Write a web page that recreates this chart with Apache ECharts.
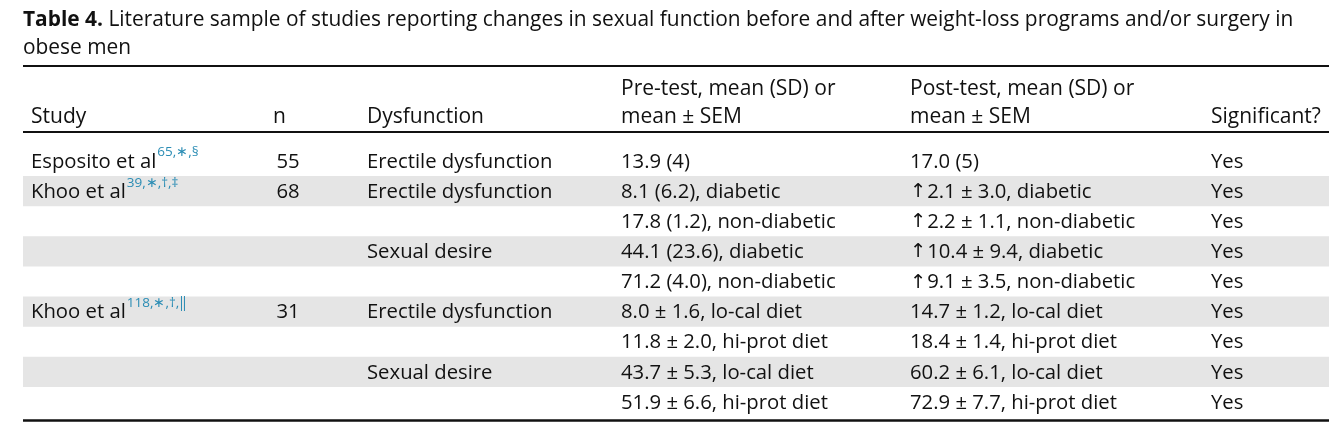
<!DOCTYPE html>
<html><head><meta charset="utf-8">
<script src="https://cdn.jsdelivr.net/npm/echarts@6/dist/echarts.min.js"></script>
<style>html,body{margin:0;padding:0;background:#fff}#c{width:1343px;height:429px}</style>
</head><body><div id="c"></div>
<script>
// ---- data ----
const studies = ['Esposito et al', 'Khoo et al', '', '', '', 'Khoo et al', '', '', ''];
const studyRefs = ['65,\u2217,\u00a7', '39,\u2217,\u2020,\u2021', '', '', '', '118,\u2217,\u2020,\u2016', '', '', ''];
const nValues = ['55', '68', '', '', '', '31', '', '', ''];
const dysfunctions = ['Erectile dysfunction', 'Erectile dysfunction', '', 'Sexual desire', '', 'Erectile dysfunction', '', 'Sexual desire', ''];
const preTest = ['13.9 (4)', '8.1 (6.2), diabetic', '17.8 (1.2), non-diabetic', '44.1 (23.6), diabetic', '71.2 (4.0), non-diabetic',
  '8.0 \u00b1 1.6, lo-cal diet', '11.8 \u00b1 2.0, hi-prot diet', '43.7 \u00b1 5.3, lo-cal diet', '51.9 \u00b1 6.6, hi-prot diet'];
const postTest = ['17.0 (5)', '\u21912.1 \u00b1 3.0, diabetic', '\u21912.2 \u00b1 1.1, non-diabetic', '\u219110.4 \u00b1 9.4, diabetic', '\u21919.1 \u00b1 3.5, non-diabetic',
  '14.7 \u00b1 1.2, lo-cal diet', '18.4 \u00b1 1.4, hi-prot diet', '60.2 \u00b1 6.1, lo-cal diet', '72.9 \u00b1 7.7, hi-prot diet'];
const significant = ['Yes', 'Yes', 'Yes', 'Yes', 'Yes', 'Yes', 'Yes', 'Yes', 'Yes'];
const headerLine1 = ['', '', '', 'Pre-test, mean (SD) or', 'Post-test, mean (SD) or', ''];
const headerLine2 = ['Study', 'n', 'Dysfunction', 'mean \u00b1 SEM', 'mean \u00b1 SEM', 'Significant?'];
const titleBold = 'Table 4.';
const titleLine1 = ' Literature sample of studies reporting changes in sexual function before and after weight-loss programs and/or surgery in';
const titleLine2 = 'obese men';

// ---- layout / style ----
const FAMILY = '"Open Sans", "Noto Sans", sans-serif';
const SIZE = 20.3;
const HEAD_SIZE = 21;
const TITLE_SIZE = 20.9;
const SUP_SIZE = 13.5;
const INK = '#111';
const TEAL = '#2a8cb4';
const SHADE = '#e5e5e5';
const COLX = [31, 288, 367, 621, 910, 1211];
const HEAD_X = [31, 273, 367, 621, 910, 1211];
const TABLE_L = 23, TABLE_R = 1329;

const measureCtx = document.createElement('canvas').getContext('2d');
function textWidth(s, size, weight) {
  measureCtx.font = (weight || 'normal') + ' ' + size + 'px ' + FAMILY;
  return measureCtx.measureText(s).width;
}
function txt(x, y, s, opts) {
  opts = opts || {};
  const style = {
    text: s, fill: opts.fill || INK, fontSize: opts.size || SIZE, fontFamily: FAMILY,
    fontWeight: opts.weight || 'normal', align: opts.align || 'left', verticalAlign: 'middle'
  };
  if (s && s.charAt(0) === '\u2191') {
    style.text = '{a|\u2191}{m|' + s.slice(1) + '}';
    style.rich = {
      a: { fontFamily: '"DejaVu Sans"', fontSize: SIZE - 1, fill: INK, padding: [0, 1, 0, 0] },
      m: { fontFamily: FAMILY, fontSize: SIZE, fill: INK }
    };
  }
  return { type: 'text', x: x, y: y, silent: true, style: style };
}

function renderItem(params, api) {
  const i = api.value(1);
  const yTop = api.coord([0, i])[1];
  const yBot = api.coord([0, i + 1])[1];
  const yc = (yTop + yBot) / 2 + 1;
  const children = [];
  if (i % 2 === 1) {
    const xl = api.coord([TABLE_L, 0])[0], xr = api.coord([TABLE_R, 0])[0];
    children.push({ type: 'rect', silent: true, shape: { x: xl, y: yTop, width: xr - xl, height: yBot - yTop }, style: { fill: SHADE } });
  }
  const px = c => api.coord([COLX[c], 0])[0];
  if (studies[i]) {
    children.push(txt(px(0), yc, studies[i]));
    const w = textWidth(studies[i], SIZE);
    children.push(txt(px(0) + w + 1, yc - 9.5, studyRefs[i], { fill: TEAL, size: SUP_SIZE }));
  }
  if (nValues[i]) children.push(txt(px(1), yc, nValues[i], { align: 'center' }));
  if (dysfunctions[i]) children.push(txt(px(2), yc, dysfunctions[i]));
  children.push(txt(px(3), yc, preTest[i]));
  children.push(txt(px(4), yc, postTest[i]));
  children.push(txt(px(5), yc, significant[i]));
  return { type: 'group', children: children };
}

const graphic = [];
const boldW = textWidth(titleBold, TITLE_SIZE, 'bold');
graphic.push(txt(23, 20, titleBold, { weight: 'bold', size: TITLE_SIZE }));
graphic.push(txt(23 + boldW, 20, titleLine1, { size: TITLE_SIZE }));
graphic.push(txt(23, 48, titleLine2, { size: TITLE_SIZE }));
headerLine1.forEach((s, k) => { if (s) graphic.push(txt(HEAD_X[k], 89, s, { size: HEAD_SIZE })); });
headerLine2.forEach((s, k) => { if (s) graphic.push(txt(HEAD_X[k], 117, s, { size: HEAD_SIZE })); });
function rule(y, w) {
  return { type: 'line', silent: true, shape: { x1: TABLE_L, y1: y, x2: TABLE_R, y2: y }, style: { stroke: '#111', lineWidth: w } };
}
graphic.push(rule(66, 2), rule(132, 2), rule(420.5, 2.5));

const chart = echarts.init(document.getElementById('c'));
chart.setOption({
  animation: false,
  backgroundColor: '#fff',
  grid: { left: 0, right: 0, top: 146, bottom: 12 },
  xAxis: { type: 'value', min: 0, max: 1343, show: false },
  yAxis: { type: 'value', min: 0, max: 9, inverse: true, show: false },
  graphic: graphic,
  series: [{
    type: 'custom', coordinateSystem: 'cartesian2d', clip: false,
    data: studies.map((_, i) => [0, i]),
    encode: { x: 0, y: 1 },
    renderItem: renderItem
  }]
});
</script></body></html>
